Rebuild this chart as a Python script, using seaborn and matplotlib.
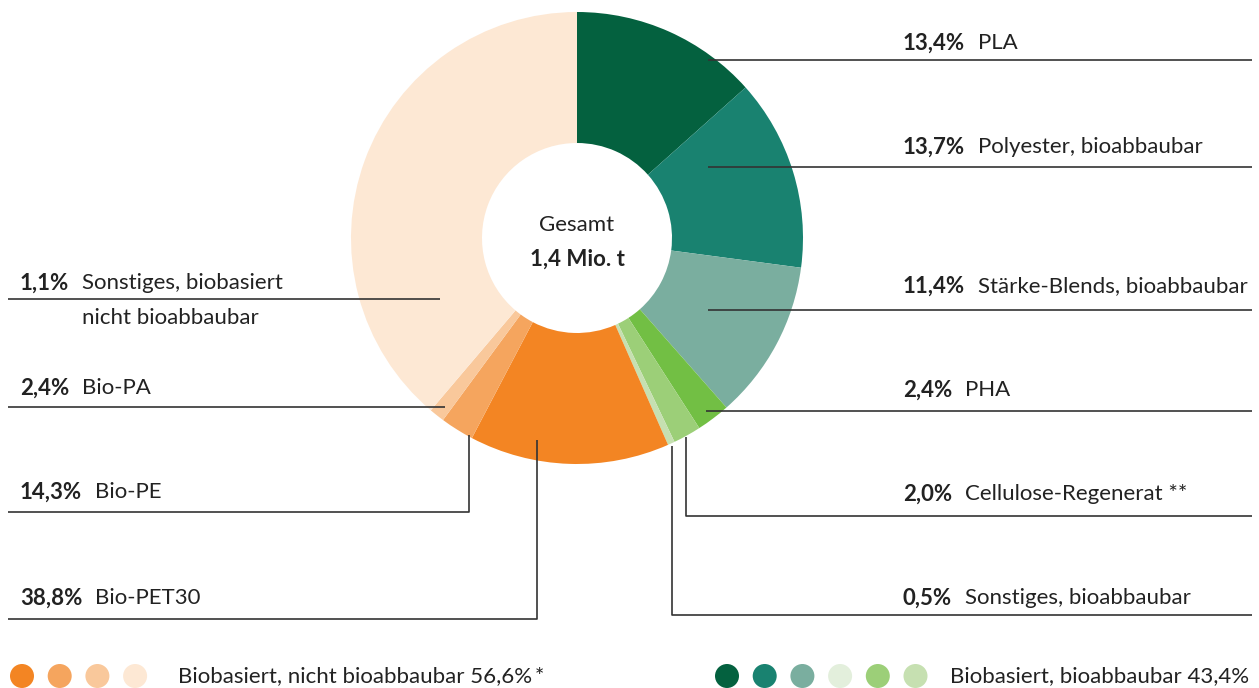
import matplotlib
matplotlib.use("Agg")
import matplotlib.pyplot as plt
import seaborn as sns
import numpy as np

# slices, clockwise from 12 o'clock
names = ["PLA", "Polyester, bioabbaubar", "Stärke-Blends, bioabbaubar", "PHA",
         "Cellulose-Regenerat **", "Sonstiges, bioabbaubar",
         "Bio-PE", "Bio-PA", "Sonstiges, biobasiert\nnicht bioabbaubar", "Bio-PET30"]
shares = [13.4, 13.7, 11.4, 2.4, 2.0, 0.5, 14.3, 2.4, 1.1, 38.8]
slice_colors = ["#04613f", "#198270", "#7aae9f", "#72bf44", "#9ccf78", "#c6e0b1",
                "#f38523", "#f5a55e", "#f9c89b", "#fde8d4"]

legend_groups = ["Biobasiert, nicht bioabbaubar 56,6%\u2009*", "Biobasiert, bioabbaubar 43,4%"]
legend_colors = [["#f38523", "#f5a55e", "#f9c89b", "#fde8d4"],
                 ["#04613f", "#198270", "#7aae9f", "#e3efdc", "#9ccf78", "#c6e0b1"]]

center_title = "Gesamt"
center_total = "1,4 Mio. t"

sns.set_theme(style="white")
plt.rcParams["font.family"] = ["Lato", "DejaVu Sans"]
TXT = "#222222"
FS = 16

W, H = 1259, 688
fig = plt.figure(figsize=(W / 100, H / 100), dpi=100)
ax = fig.add_axes([0, 0, 1, 1])

def Y(py):
    # pixel row (from top) -> data y
    return H - py

cx, cy, r_out, r_in = 577, Y(238), 226, 95
ax.pie(shares, colors=slice_colors, startangle=90, counterclock=False,
       center=(cx, cy), radius=r_out, frame=True,
       wedgeprops=dict(width=r_out - r_in, linewidth=0))
ax.set_xlim(0, W)
ax.set_ylim(0, H)
ax.axis("off")

ax.text(cx, Y(225), center_title, ha="center", va="center", fontsize=FS, color=TXT)
ax.text(cx, Y(259), center_total, ha="center", va="center", fontsize=FS,
        fontweight="bold", color=TXT)

def pct(v):
    return f"{v:.1f}%".replace(".", ",")

# label layout: (slice index, text x, text row, leader path in pixel rows)
right_x = 903
left_x = 20
layout = [
    (0, right_x, 43, [(708, 60), (1252, 60)]),
    (1, right_x, 147, [(708, 167), (1252, 167)]),
    (2, right_x, 286, [(708, 310), (1252, 310)]),
    (3, right_x, 390, [(706, 411), (1252, 411)]),
    (4, right_x, 494, [(686, 437), (686, 516), (1252, 516)]),
    (5, right_x, 598, [(672, 446), (672, 615), (1252, 615)]),
    (8, left_x, 283, [(8, 299), (440, 299)]),
    (7, left_x, 388, [(8, 407), (445, 407)]),
    (6, left_x, 492, [(8, 512), (469, 512), (469, 435)]),
    (9, left_x, 598, [(8, 619), (537, 619), (537, 440)]),
]

for idx, tx, ty, path in layout:
    xs = [p[0] for p in path]
    ys = [Y(p[1]) for p in path]
    ax.plot(xs, ys, color="#333333", lw=1.2, solid_capstyle="butt")
    t = ax.text(tx, Y(ty), pct(shares[idx]), ha="left", va="center",
                fontsize=FS, fontweight="bold", color=TXT)
    lines = names[idx].split("\n")
    first = ax.annotate(lines[0], xy=(1, 0.5), xycoords=t, xytext=(9, 0),
                        textcoords="offset points", ha="left", va="center",
                        fontsize=FS, color=TXT)
    if len(lines) > 1:
        ax.annotate(lines[1], xy=(0, 0.5), xycoords=first, xytext=(0, -25),
                    textcoords="offset points", ha="left", va="center",
                    fontsize=FS, color=TXT)

# legend dots
leg_y = Y(676)
dot_r = 12
starts = [22, 727]
text_x = [178, 950]
for g, (label, cols) in enumerate(zip(legend_groups, legend_colors)):
    for k, c in enumerate(cols):
        ax.add_patch(plt.Circle((starts[g] + k * 37.7, leg_y), dot_r, color=c, lw=0))
    ax.text(text_x[g], leg_y, label, ha="left", va="center", fontsize=FS, color=TXT)

fig.savefig("out.png", dpi=100)
